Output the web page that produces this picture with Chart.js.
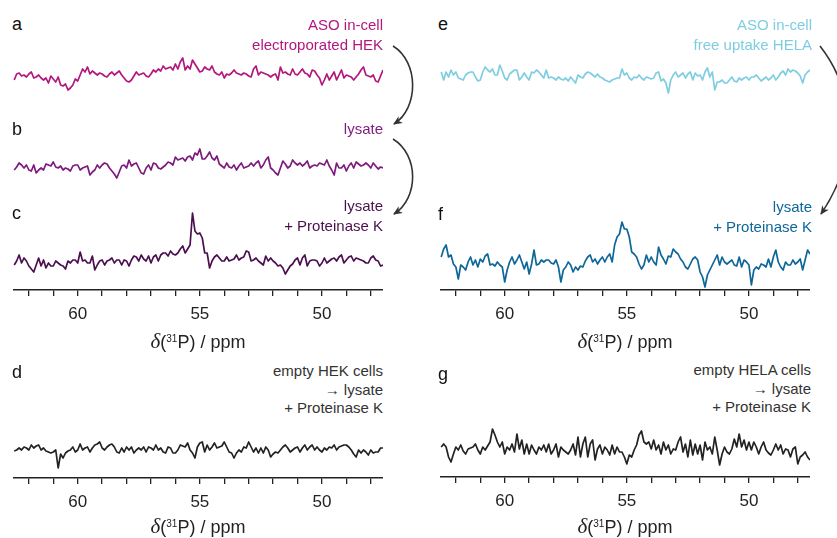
<!DOCTYPE html>
<html>
<head>
<meta charset="utf-8">
<script src="https://cdn.jsdelivr.net/npm/chart.js@4.4.1/dist/chart.umd.min.js"></script>
<style>
  html, body { margin: 0; padding: 0; background: #fff; }
  #figure { position: relative; width: 837px; height: 538px; overflow: hidden; background: #fff;
    font-family: 'Liberation Sans', Arial, Helvetica, sans-serif; }
  #figure canvas { position: absolute; }
  .panel { position: absolute; font-size: 18px; line-height: 20px; color: #111; }
  .note { position: absolute; font-size: 15px; text-align: right; white-space: nowrap; }
  .xtitle { position: absolute; font-size: 18px; line-height: 22px; text-align: center; color: #222; white-space: nowrap; }
  .xtitle .delta { font-family: 'Liberation Serif', 'DejaVu Serif', serif; font-style: italic; font-size: 21px; }
  .xtitle sup { font-size: 10px; vertical-align: 6px; line-height: 0; }
  #arrows { position: absolute; left: 0; top: 0; }
</style>
</head>
<body>
<div id="figure">
  <canvas id="trace-a" width="370" height="60" style="left:13px;top:47px"></canvas>
  <canvas id="trace-b" width="370" height="60" style="left:13px;top:138px"></canvas>
  <canvas id="trace-c" width="370" height="130" style="left:13px;top:200px"></canvas>
  <canvas id="trace-d" width="370" height="100" style="left:13px;top:418px"></canvas>
  <canvas id="trace-e" width="370" height="60" style="left:440px;top:45px"></canvas>
  <canvas id="trace-f" width="370" height="130" style="left:440px;top:200px"></canvas>
  <canvas id="trace-g" width="370" height="100" style="left:440px;top:417px"></canvas>

  <div class="panel" style="left:12px;top:14px">a</div>
  <div class="panel" style="left:12px;top:119px">b</div>
  <div class="panel" style="left:12px;top:203px">c</div>
  <div class="panel" style="left:12px;top:362px">d</div>
  <div class="panel" style="left:438px;top:14px">e</div>
  <div class="panel" style="left:438px;top:204px">f</div>
  <div class="panel" style="left:438px;top:364px">g</div>

  <div class="note" style="right:454px;top:15px;line-height:19.5px;color:#b3177e">ASO in-cell<br>electroporated HEK</div>
  <div class="note" style="right:454px;top:119px;line-height:20px;color:#7d1a7d">lysate</div>
  <div class="note" style="right:454px;top:196px;line-height:20px;color:#4b0f4f">lysate<br>+ Proteinase K</div>
  <div class="note" style="right:454px;top:362px;line-height:18.7px;color:#333">empty HEK cells<br>→ lysate<br>+ Proteinase K</div>
  <div class="note" style="right:25px;top:15px;line-height:19.5px;color:#7fcde0">ASO in-cell<br>free uptake HELA</div>
  <div class="note" style="right:25px;top:197px;line-height:20px;color:#0e6699">lysate<br>+ Proteinase K</div>
  <div class="note" style="right:26px;top:361px;line-height:18.7px;color:#333">empty HELA cells<br>→ lysate<br>+ Proteinase K</div>

  <div class="xtitle" style="left:13px;top:330px;width:370px"><span class="delta">δ</span>(<sup>31</sup>P) / ppm</div>
  <div class="xtitle" style="left:13px;top:515px;width:370px"><span class="delta">δ</span>(<sup>31</sup>P) / ppm</div>
  <div class="xtitle" style="left:440px;top:330px;width:370px"><span class="delta">δ</span>(<sup>31</sup>P) / ppm</div>
  <div class="xtitle" style="left:440px;top:515px;width:370px"><span class="delta">δ</span>(<sup>31</sup>P) / ppm</div>

  <svg id="arrows" width="837" height="538">
    <defs>
      <marker id="head" markerUnits="userSpaceOnUse" markerWidth="10" markerHeight="8" refX="8" refY="4" orient="auto">
        <path d="M0,0 L9,4 L0,8 L2.5,4 z" fill="#333"></path>
      </marker>
    </defs>
    <g fill="none" stroke="#333" stroke-width="1.6" marker-end="url(#head)">
      <path d="M393 46 C419 62, 419 108, 394 124"></path>
      <path d="M393 139 C419 155, 419 198, 394 214"></path>
      <path d="M820 46 C858 95, 858 160, 821 214"></path>
    </g>
  </svg>
</div>

<script>
// chemical shift axis shared by every spectrum (ppm, high to low)
const ppm = [
  62.6, 62.5, 62.4, 62.3, 62.2, 62.1, 62.0, 61.9, 61.8, 61.7,
  61.6, 61.5, 61.4, 61.3, 61.2, 61.1, 61.0, 60.9, 60.8, 60.7,
  60.6, 60.5, 60.4, 60.3, 60.2, 60.1, 60.0, 59.9, 59.8, 59.7,
  59.6, 59.5, 59.4, 59.3, 59.2, 59.1, 59.0, 58.9, 58.8, 58.7,
  58.6, 58.5, 58.4, 58.3, 58.2, 58.1, 58.0, 57.9, 57.8, 57.7,
  57.6, 57.5, 57.4, 57.3, 57.2, 57.1, 57.0, 56.9, 56.8, 56.7,
  56.6, 56.5, 56.4, 56.3, 56.2, 56.1, 56.0, 55.9, 55.8, 55.7,
  55.6, 55.5, 55.4, 55.3, 55.2, 55.1, 55.0, 54.9, 54.8, 54.7,
  54.6, 54.5, 54.4, 54.3, 54.2, 54.1, 54.0, 53.9, 53.8, 53.7,
  53.6, 53.5, 53.4, 53.3, 53.2, 53.1, 53.0, 52.9, 52.8, 52.7,
  52.6, 52.5, 52.4, 52.3, 52.2, 52.1, 52.0, 51.9, 51.8, 51.7,
  51.6, 51.5, 51.4, 51.3, 51.2, 51.1, 51.0, 50.9, 50.8, 50.7,
  50.6, 50.5, 50.4, 50.3, 50.2, 50.1, 50.0, 49.9, 49.8, 49.7,
  49.6, 49.5, 49.4, 49.3, 49.2, 49.1, 49.0, 48.9, 48.8, 48.7,
  48.6, 48.5, 48.4, 48.3, 48.2, 48.1, 48.0, 47.9, 47.8, 47.7,
  47.6, 47.5
];
const tickPpm = [48, 49, 50, 51, 52, 53, 54, 55, 56, 57, 58, 59, 60, 61, 62];
const PPM_MIN = 47.5;
const PPM_MAX = 62.65;

// intensities (arbitrary units) on the ppm grid
const asoHekCells = [
  -3, 3, 4, 1, 2, 0, 3, 5, -1, 0,
  2, -1, -3, -1, -6, 1, -2, -5, 0, -8,
  -9, -7, -13, -11, -8, -2, -4, 2, 8, 5,
  10, 3, 6, 4, 2, 4, 3, 1, 0, 3,
  5, 2, 4, 6, 2, -1, -4, -5, -3, 1,
  5, 2, 3, 4, 1, 0, 3, 7, 5, 8,
  6, 11, 8, 9, 10, 7, 13, 8, 15, 19,
  7, 11, 8, 17, 13, 9, 5, 6, 10, 8,
  7, 11, 5, 3, 2, 5, -1, 3, 2, 4,
  7, 4, 3, 2, 4, 3, 1, 0, 8, 11,
  2, 5, 4, 3, 2, 0, 2, 3, -3, 10,
  4, 5, 3, 2, 8, 3, 2, 5, 8, 4,
  3, 0, 7, 6, 2, -1, -8, -3, 3, -3,
  1, 5, -3, 2, 7, -1, 2, 1, 0, -3,
  0, 3, 7, 10, 2, 1, 0, 2, -4, -5,
  1, 7
];
const hekLysate = [
  -2, 1, 5, 3, 0, 3, -2, -3, 3, -5,
  -2, 0, -2, 4, 3, 2, 6, 1, 0, 2,
  -2, 0, -1, -3, 2, 3, 3, -2, 0, 1,
  2, -7, -4, -2, 3, 0, 3, 5, 4, 0,
  -3, -6, -10, -4, 2, 3, 0, 8, 2, 4,
  5, 0, -5, -6, 0, 3, -2, 5, 4, 0,
  -1, 1, 3, 6, 5, 3, 11, 8, 9, 10,
  7, 11, 12, 8, 15, 13, 19, 9, 9, 12,
  16, 10, 8, 12, 4, 2, 0, 5, 1, 0,
  3, -2, 2, 5, 0, 1, 2, 5, 2, 5,
  7, 0, 3, 8, 11, 0, -2, -5, -7, 0,
  7, 4, 0, 2, 8, 5, 3, 5, 2, 4,
  7, 0, 2, 3, 2, 5, 4, 3, 8, 2,
  -2, -7, 5, 0, 0, 3, -3, 2, 5, 0,
  6, 4, 2, 3, 5, 3, 0, 5, 2, -1,
  1, 0
];
const hekLysateProtK = [
  -2, 2, 8, 0, 5, 2, -3, -6, -9, -2,
  5, -3, 3, -5, 0, -3, -3, 2, 0, -2,
  -3, -6, 2, 0, 3, 3, 0, 11, 2, 3,
  0, 0, 7, -7, -2, 2, 3, -2, 2, 3,
  5, 0, 3, 3, -2, 3, 2, -3, 3, 7,
  6, 2, 8, 4, 2, 7, 0, 6, 8, 2,
  8, 10, 10, 7, 12, 9, 8, 10, 14, 17,
  10, 14, 18, 50, 32, 29, 30, 25, 10, 10,
  -5, 2, 6, 8, 5, 2, 2, 6, 2, 3,
  4, 8, 3, 5, 6, 12, 11, 2, 3, 5,
  2, 0, -2, 7, 2, 5, 2, 0, -3, -2,
  -5, -11, -7, -3, -1, 3, 5, -2, 5, 8,
  -3, 2, 3, 3, 2, -3, 0, 5, 0, 2,
  4, 5, 2, 6, 8, 0, 3, 6, 7, 2,
  5, 4, 3, 2, 0, 0, 5, 7, 3, 2,
  -3, -2
];
const emptyHek = [
  -1, 0, 2, 0, 3, 2, 0, 5, 2, 4,
  5, 0, 2, -1, -2, -3, -2, 0, -18, -4,
  -8, -3, -1, 0, 3, -2, 0, 6, 0, 2,
  3, -2, 2, 5, 6, 8, 2, 0, 3, 5,
  6, 3, -2, -3, 2, -2, 3, 0, 3, -3,
  0, 2, 0, 3, -2, 3, 2, 0, 5, 0,
  2, -2, -3, 3, 2, -3, -3, 0, 5, 4,
  3, 7, 0, -3, -8, 3, 7, 8, -2, 5,
  0, 3, 7, 2, 3, 4, 8, 3, -2, -3,
  -8, -3, 0, -2, 3, 2, 8, 3, -2, 2,
  -3, 2, -3, 3, 0, -7, -4, -2, -3, 0,
  3, 5, 2, -2, 0, 2, 3, -2, 2, 5,
  0, 3, 5, 0, 3, 0, -2, 2, 0, 3,
  2, 5, 0, 3, 4, 5, 5, 3, 0, -4,
  -7, 0, -3, 0, -2, -5, 0, -3, -2, -2,
  2, 2
];
const asoHelaCells = [
  3, -5, 3, -2, 5, 0, 3, -3, -4, -5,
  0, 2, 3, 3, -2, -6, -5, 3, 8, 5,
  3, 6, 0, 0, 10, 4, -3, -5, 1, 3,
  5, 5, -5, -2, 2, -2, -5, 3, 2, 5,
  3, 0, -3, 5, -3, -2, -3, -5, -2, -4,
  -5, -3, -6, -2, -5, -8, 0, -2, -3, 1,
  3, 2, 0, -2, 1, -2, -3, -5, -6, -7,
  -5, -4, -3, -3, 6, 0, 2, -3, -5, -2,
  -3, 0, -3, -5, -2, -3, -4, -3, 2, 3,
  -6, -4, -8, -18, -5, 0, 3, -2, 0, 2,
  -3, 1, 3, -5, 2, -1, 0, -5, 3, 7,
  -2, 3, -15, -7, -7, -5, -8, -8, -5, -2,
  -6, -7, -3, -5, -3, -2, -5, -2, -2, 0,
  -3, -6, -4, -2, -5, -3, 0, -5, -2, 2,
  4, 0, 6, 3, 5, 4, 2, -1, -8, 0,
  3, 5
];
const helaLysateProtK = [
  5, 13, 17, 5, 7, -2, -5, -17, -3, -5,
  -8, 0, 5, -3, 2, -5, 3, 0, 6, 8,
  -3, -2, -4, 0, -3, -5, -20, -8, 0, 5,
  -2, 2, 7, 0, -7, 0, -12, -2, 12, -3,
  -2, 2, 0, 2, 2, -1, -2, 2, -5, -20,
  -8, -5, 0, -3, -10, -5, -8, -4, -5, 1,
  5, 7, 0, 3, -2, 2, 5, 0, 5, 8,
  0, 17, 25, 28, 40, 33, 33, 25, 10, 8,
  5, -2, -7, -3, 7, 0, 5, 0, -3, 15,
  7, 3, -2, 6, 5, 13, 10, 8, 3, 0,
  -5, -7, -2, 3, 5, 2, -10, -15, -25, -13,
  -8, -3, 2, 7, -3, 5, 0, -2, 0, 2,
  -3, -4, 5, -5, 2, 0, -3, -23, -8, -5,
  -7, -2, -3, -5, 3, -5, 5, 12, 0, -5,
  -8, 0, -3, -3, 2, -2, 0, 3, -8, 2,
  12, 8
];
const emptyHela = [
  5, 8, 5, -5, -10, -2, 5, 2, 7, 1,
  -2, 3, 4, 5, 8, 2, -2, 5, 2, 6,
  10, 23, 17, 10, 5, 10, -2, 5, 2, 8,
  0, 18, 3, 12, -2, 8, -2, 7, 2, -2,
  5, 2, 7, 0, 8, -2, 2, 8, -5, 5,
  2, 0, -2, 2, 8, -3, 15, -5, 8, 15,
  -5, 8, 12, -8, 3, 7, -2, 5, 2, -3,
  7, -2, 5, 0, 0, -5, -12, -3, -5, 2,
  7, 17, 21, 10, 8, 10, 3, 12, 2, 7,
  -2, 10, 2, 7, -2, 3, 2, 10, 15, 0,
  8, -5, 12, -3, 8, -2, 7, -8, 10, 2,
  5, -2, 15, 2, -13, -2, 5, 0, -2, 3,
  13, 5, 18, 5, 12, 2, 10, 2, 10, 5,
  -2, 5, 10, 2, -1, -3, 2, 8, 2, 7,
  -2, 3, 2, -5, 3, 5, -12, -5, -3, 0,
  -5, -8
];

const AXIS_COLOR = '#222';

function drawSpectrum(canvasId, values, color, yMin, yMax, withAxis) {
  return new Chart(document.getElementById(canvasId), {
    type: 'line',
    data: {
      datasets: [
        {
          data: ppm.map((x, i) => ({ x, y: values[i] })),
          borderColor: color,
          borderWidth: 1.7,
          borderJoinStyle: 'round',
          pointRadius: 0,
          tension: 0,
          clip: false
        }
      ]
    },
    options: {
      responsive: false,
      animation: false,
      devicePixelRatio: 1,
      layout: { padding: 0 },
      plugins: { legend: { display: false }, tooltip: { enabled: false } },
      scales: {
        x: {
          type: 'linear',
          reverse: true,
          min: PPM_MIN,
          max: PPM_MAX,
          display: withAxis,
          afterBuildTicks: (scale) => {
            scale.ticks = tickPpm.map((value) => ({ value }));
          },
          // fixed band under the plot for ticks + labels (only when shown)
          afterFit: (scale) => {
            scale.height = withAxis ? 40 : 0;
          },
          grid: {
            display: true,
            drawOnChartArea: false,
            drawTicks: true,
            tickLength: 6,
            color: AXIS_COLOR,
            lineWidth: 1.3
          },
          border: { display: true, color: AXIS_COLOR, width: 1.4 },
          ticks: {
            autoSkip: false,
            maxRotation: 0,
            padding: 8,
            color: AXIS_COLOR,
            font: { family: "'Liberation Sans', Arial, sans-serif", size: 17 },
            callback: (value) => (value % 5 === 0 ? String(value) : '')
          }
        },
        y: { display: false, min: yMin, max: yMax }
      }
    }
  });
}

(function init() {
  drawSpectrum('trace-a', asoHekCells, '#b3177e', -30, 30, false);
  drawSpectrum('trace-b', hekLysate, '#7d1a7d', -30, 30, false);
  drawSpectrum('trace-c', hekLysateProtK, '#4b0f4f', -27, 63, true);
  drawSpectrum('trace-d', emptyHek, '#222', -28, 32, true);
  drawSpectrum('trace-e', asoHelaCells, '#7fcde0', -30, 30, false);
  drawSpectrum('trace-f', helaLysateProtK, '#0e6699', -28, 62, true);
  drawSpectrum('trace-g', emptyHela, '#222', -25, 35, true);
})();
</script>
</body>
</html>
